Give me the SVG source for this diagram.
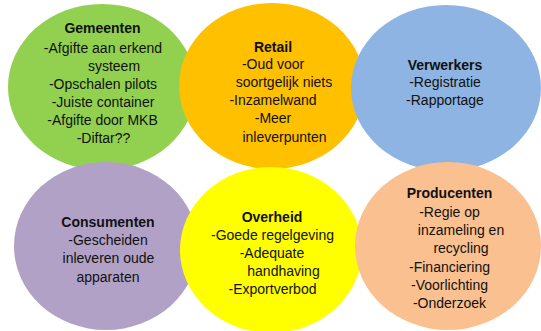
<svg xmlns="http://www.w3.org/2000/svg" width="541" height="331" viewBox="0 0 541 331">
<style>
text{font-family:"Liberation Sans",Arial,sans-serif;font-size:14px;fill:#111;text-anchor:middle}
.t{font-weight:bold}
</style>
<rect width="541" height="331" fill="#fff"/>
<g id="gemeenten">
<ellipse cx="102" cy="87" rx="94" ry="83" fill="#92D050"/>
<text x="102.5" y="33" class="t">Gemeenten</text>
<text x="103" y="53">-Afgifte aan erkend</text>
<text x="114" y="71">systeem</text>
<text x="103" y="89">-Opschalen pilots</text>
<text x="103" y="107">-Juiste container</text>
<text x="102.5" y="125">-Afgifte door MKB</text>
<text x="103.5" y="143">-Diftar??</text>
</g>
<g id="retail">
<ellipse cx="272" cy="86" rx="93" ry="83" fill="#FFC000"/>
<text x="273" y="52" class="t">Retail</text>
<text x="273" y="69">-Oud voor</text>
<text x="284" y="87">soortgelijk niets</text>
<text x="273" y="105">-Inzamelwand</text>
<text x="273" y="123">-Meer</text>
<text x="284.5" y="142">inleverpunten</text>
</g>
<g id="verwerkers">
<ellipse cx="446" cy="88" rx="95" ry="83" fill="#8DB4E2"/>
<text x="445" y="70" class="t">Verwerkers</text>
<text x="445" y="87">-Registratie</text>
<text x="445" y="105">-Rapportage</text>
</g>
<g id="consumenten">
<ellipse cx="106" cy="246" rx="92" ry="84" fill="#B2A1C7"/>
<text x="108" y="227" class="t">Consumenten</text>
<text x="108" y="245">-Gescheiden</text>
<text x="108.5" y="263">inleveren oude</text>
<text x="108" y="282">apparaten</text>
</g>
<g id="overheid">
<ellipse cx="271" cy="250" rx="91" ry="83" fill="#FFFF00"/>
<text x="272" y="222" class="t">Overheid</text>
<text x="272.5" y="240">-Goede regelgeving</text>
<text x="272" y="258">-Adequate</text>
<text x="283.5" y="276">handhaving</text>
<text x="272.5" y="294">-Exportverbod</text>
</g>
<g id="producenten">
<ellipse cx="448" cy="246" rx="93" ry="84" fill="#FAC090"/>
<text x="449.5" y="198" class="t">Producenten</text>
<text x="449.5" y="217">-Regie op</text>
<text x="461" y="235">inzameling en</text>
<text x="461" y="253">recycling</text>
<text x="449.5" y="272">-Financiering</text>
<text x="449.5" y="290">-Voorlichting</text>
<text x="449.5" y="308">-Onderzoek</text>
</g>
<g id="connectors"/>
</svg>
